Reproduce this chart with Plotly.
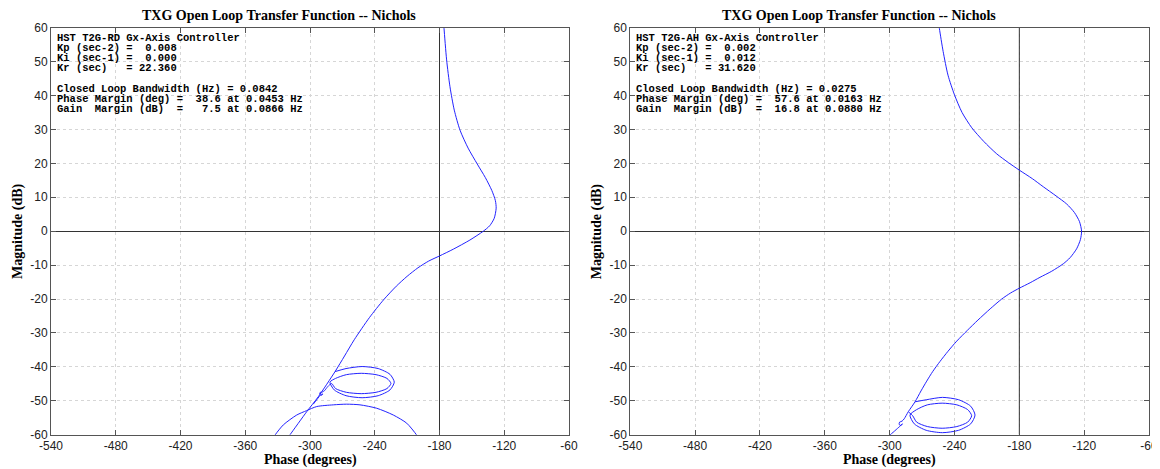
import plotly.graph_objects as go

# ---------------- data ----------------
title_text = "TXG Open Loop Transfer Function -- Nichols"
x_label = "Phase (degrees)"
y_label = "Magnitude (dB)"

x_ticks = [-540, -480, -420, -360, -300, -240, -180, -120, -60]
x_tick_labels = ["-540", "-480", "-420", "-360", "-300", "-240", "-180", "-120", "-60"]
y_ticks = [-60, -50, -40, -30, -20, -10, 0, 10, 20, 30, 40, 50, 60]
y_tick_labels = ["-60", "-50", "-40", "-30", "-20", "-10", "0", "10", "20", "30", "40", "50", "60"]

# Left panel: T2G-RD controller
rd_main_phase = [-176.5, -175.8, -173.4, -170.3, -166.3, -161.0, -153.5, -145.0, -137.5, -131.5, -128.2,
                 -127.5, -129.3, -133.5, -139.4, -151.8, -167.2, -180.0, -190.0, -200.0, -210.0, -220.0,
                 -232.0, -245.0, -259.0, -268.0, -276.8, -292.3, -303.0, -318.5, -322.0]
rd_main_mag = [63.0, 59.8, 50.5, 42.6, 35.7, 29.8, 24.5, 19.8, 15.8, 12.0, 9.0,
               6.8, 3.8, 1.6, 0.0, -2.6, -5.3, -7.3, -8.8, -10.8, -13.3, -16.2,
               -20.3, -25.5, -32.0, -36.8, -41.4, -48.8, -53.2, -60.0, -61.5]

rd_loop_phase = [-276.8, -266.6, -251.7, -236.8, -225.9, -221.9, -225.9, -236.8, -251.7, -266.6, -277.5, -281.5,
                 -276.3, -266.3, -252.5, -238.8, -228.7, -225.0, -228.7, -238.8, -252.5, -266.3, -276.3, -280.0,
                 -283.5, -286.5, -288.5, -290.5, -291.0, -289.5, -288.0, -290.0, -293.5, -297.0]
rd_loop_mag = [-41.4, -40.5, -39.9, -40.5, -42.2, -44.5, -46.8, -48.5, -49.1, -48.5, -46.8, -44.5,
               -43.4, -42.3, -41.9, -42.3, -43.4, -44.9, -46.4, -47.5, -47.9, -47.5, -46.4, -44.9,
               -45.8, -47.0, -47.4, -47.5, -48.1, -48.4, -48.0, -48.2, -49.6, -51.0]

rd_arc_phase = [-338.0, -332.4, -324.7, -312.3, -303.1, -293.8, -278.4, -266.0, -253.7, -238.2,
                -222.8, -210.4, -201.2, -196.0]
rd_arc_mag = [-63.0, -60.1, -57.1, -54.2, -52.9, -51.7, -51.2, -51.0, -51.2, -52.2,
              -54.2, -56.6, -60.1, -63.0]

rd_text = ["HST T2G-RD Gx-Axis Controller",
           "Kp (sec-2) =  0.008",
           "Ki (sec-1) =  0.000",
           "Kr (sec)   = 22.360",
           "",
           "Closed Loop Bandwidth (Hz) = 0.0842",
           "Phase Margin (deg) =  38.6 at 0.0453 Hz",
           "Gain  Margin (dB)  =   7.5 at 0.0866 Hz"]

# Right panel: T2G-AH controller
ah_main_phase = [-255.5, -254.0, -250.5, -246.0, -240.0, -233.0, -224.0, -213.0, -200.9, -190.0, -180.0,
                 -168.0, -157.8, -146.0, -136.1, -129.0, -124.3, -122.4, -123.5, -127.0, -133.0, -139.3,
                 -150.0, -160.9, -170.0, -180.0, -188.0, -196.3, -207.0, -218.3, -228.0, -237.9, -246.0,
                 -253.4, -260.0, -265.7, -271.0, -276.5, -282.7, -286.5, -288.5, -290.8, -291.2, -289.5,
                 -288.2, -291.5, -294.0, -296.8, -299.7, -302.0]
ah_main_mag = [63.0, 59.8, 53.0, 46.0, 40.2, 35.0, 30.5, 26.5, 22.8, 20.2, 18.0,
               15.5, 13.1, 10.4, 8.0, 5.5, 2.8, 0.0, -2.5, -5.2, -7.8, -9.6,
               -11.8, -13.6, -15.2, -16.8, -18.2, -20.0, -22.9, -26.2, -29.2, -32.4, -35.4,
               -38.4, -41.3, -44.2, -47.1, -50.3, -53.2, -55.3, -56.0, -56.3, -57.0, -57.3,
               -56.8, -57.8, -58.5, -59.3, -60.1, -61.5]

ah_loop_phase = [-276.5, -266.2, -251.1, -236.1, -225.0, -221.0, -225.0, -236.1, -251.1, -266.2, -277.2, -281.2,
                 -275.0, -265.1, -251.4, -237.8, -227.8, -224.1, -227.8, -237.8, -251.4, -265.1, -275.0, -278.7,
                 -282.5]
ah_loop_mag = [-50.3, -49.7, -49.0, -49.7, -51.6, -54.2, -56.8, -58.7, -59.4, -58.7, -56.8, -54.2,
               -52.6, -51.2, -50.7, -51.2, -52.6, -54.4, -56.3, -57.6, -58.1, -57.6, -56.3, -54.4,
               -53.3]

ah_text = ["HST T2G-AH Gx-Axis Controller",
           "Kp (sec-2) =  0.002",
           "Ki (sec-1) =  0.012",
           "Kr (sec)   = 31.620",
           "",
           "Closed Loop Bandwidth (Hz) = 0.0275",
           "Phase Margin (deg) =  57.6 at 0.0163 Hz",
           "Gain  Margin (dB)  =  16.8 at 0.0880 Hz"]

# ---------------- figure ----------------
PAGE_W, PAGE_H = 1160, 469
OFF = 8                       # default page body margin
W, H = PAGE_W - OFF, PAGE_H - OFF
LINE_COLOR = "rgb(35,35,255)"
SERIF = "Liberation Serif, Times New Roman, serif"
SANS = "Liberation Sans, Arial, sans-serif"
MONO = "Liberation Mono, Courier New, monospace"


def px(x):
    return (x - OFF) / W


def py(y):
    return 1 - (y - OFF) / H


# pixel geometry (page pixels) of the two axes boxes
left_px = [(51, 569), (630.3, 1149)]
top_px, bottom_px = 27.7, 434.7

fig = go.Figure()


def add_curve(xs, ys, axis_idx):
    sfx = "" if axis_idx == 1 else str(axis_idx)
    fig.add_trace(go.Scatter(x=xs, y=ys, mode="lines",
                             line=dict(color=LINE_COLOR, width=1, shape="spline", smoothing=0.7),
                             xaxis="x" + sfx, yaxis="y" + sfx, showlegend=False, hoverinfo="skip"))


add_curve(rd_main_phase, rd_main_mag, 1)
add_curve(rd_loop_phase, rd_loop_mag, 1)
add_curve(rd_arc_phase, rd_arc_mag, 1)
add_curve(ah_main_phase, ah_main_mag, 2)
add_curve(ah_loop_phase, ah_loop_mag, 2)

ydom = [py(bottom_px), py(top_px)]
axis_common = dict(showline=True, linecolor="#555555", linewidth=1, mirror="ticks",
                   ticks="inside", ticklen=5, tickcolor="#555555", automargin=False,
                   showgrid=True, gridcolor="#d6d6d6", griddash="dot", gridwidth=1,
                   tickfont=dict(family=SANS, size=12, color="#222222"))

layout_axes = {}
for i, (l, r) in enumerate(left_px, start=1):
    sfx = "" if i == 1 else str(i)
    layout_axes["xaxis" + sfx] = dict(axis_common, domain=[px(l), px(r)], range=[-540, -60],
                                      tickvals=x_ticks, ticktext=x_tick_labels, zeroline=False,
                                      anchor="y" + sfx)
    layout_axes["yaxis" + sfx] = dict(axis_common, domain=ydom, range=[-60, 60],
                                      tickvals=y_ticks, ticktext=y_tick_labels,
                                      zeroline=True, zerolinecolor="#333333", zerolinewidth=1,
                                      anchor="x" + sfx)

fig.update_layout(width=W, height=H, margin=dict(l=0, r=0, t=0, b=0, autoexpand=False),
                  paper_bgcolor="white", plot_bgcolor="white", **layout_axes)

# -180 degree reference lines
for i in (1, 2):
    sfx = "" if i == 1 else str(i)
    fig.add_shape(type="line", xref="x" + sfx, yref="y" + sfx, x0=-180, x1=-180, y0=-60, y1=60,
                  line=dict(color="#333333", width=1), layer="between")

annotations = []
title_centers = [279, 859]
for i, (l, r) in enumerate(left_px):
    annotations.append(dict(text="<b>" + title_text + "</b>", x=px(title_centers[i]), y=py(15.5),
                            xref="paper", yref="paper", showarrow=False, xanchor="center", yanchor="middle",
                            font=dict(family=SERIF, size=14, color="black")))
    annotations.append(dict(text="<b>" + x_label + "</b>", x=px((l + r) / 2), y=py(459.5),
                            xref="paper", yref="paper", showarrow=False, xanchor="center", yanchor="middle",
                            font=dict(family=SERIF, size=14, color="black")))
    annotations.append(dict(text="<b>" + y_label + "</b>", x=px(l - 33), y=py(231),
                            xref="paper", yref="paper", showarrow=False, xanchor="center", yanchor="middle",
                            textangle=-90, font=dict(family=SERIF, size=14, color="black")))
    lines = rd_text if i == 0 else ah_text
    for k, t in enumerate(lines):
        if not t:
            continue
        yc = 37.7 + 10.25 * k
        annotations.append(dict(text="<b>" + t.replace(" ", "&nbsp;") + "</b>", x=px(l + 4), y=py(yc),
                                xref="paper", yref="paper", showarrow=False, xanchor="left", yanchor="middle",
                                font=dict(family=MONO, size=10.5, color="black")))

fig.update_layout(annotations=annotations)

fig.write_html("out.html")
